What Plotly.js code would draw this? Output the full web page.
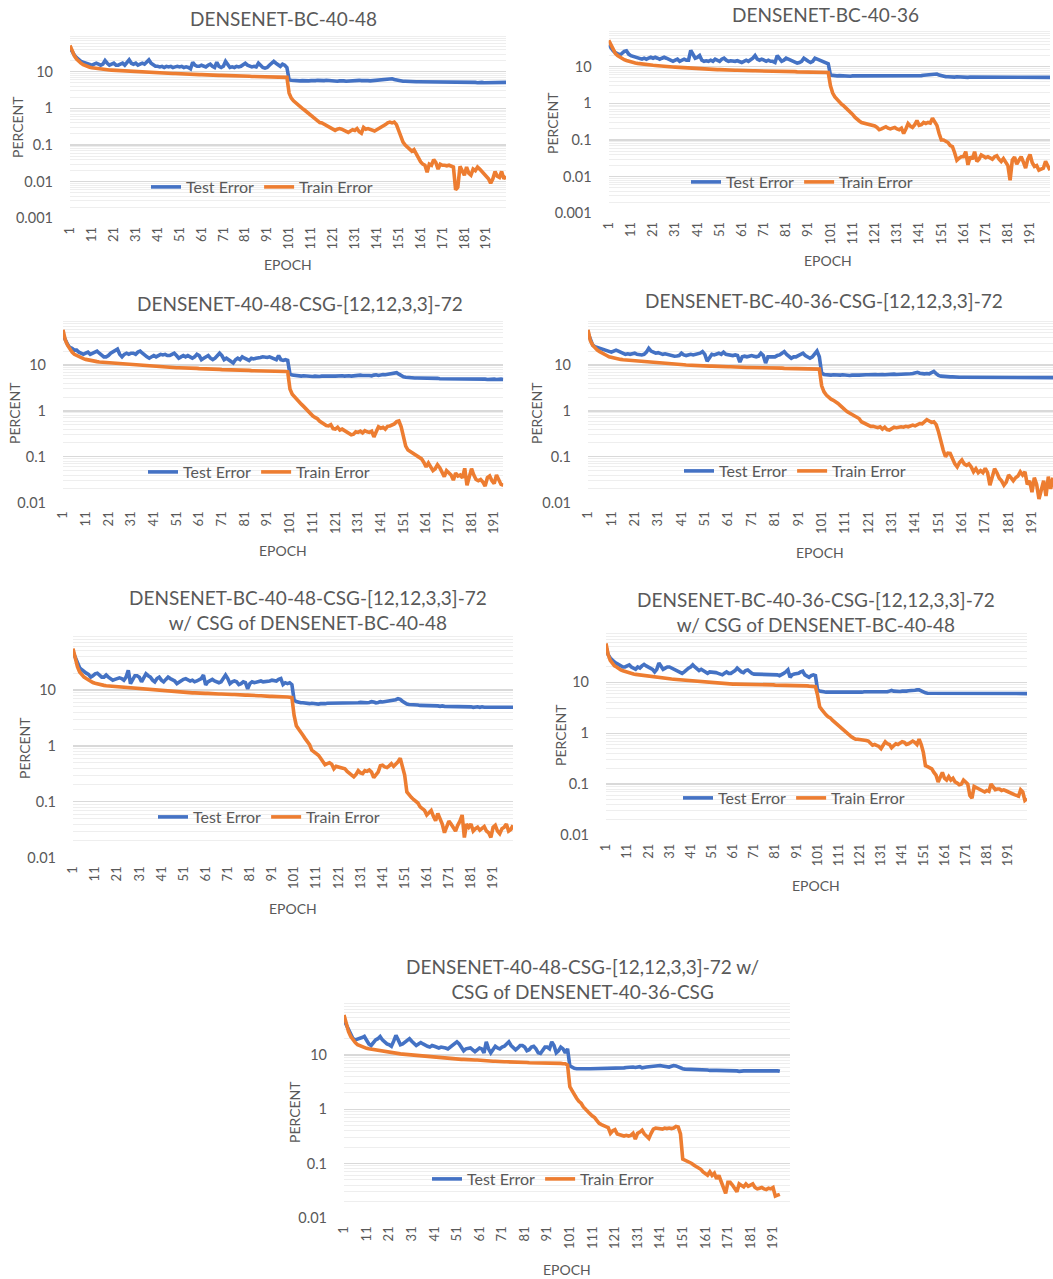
<!DOCTYPE html>
<html><head><meta charset="utf-8">
<script src="https://cdn.plot.ly/plotly-3.0.1.min.js"></script>
<style>html,body{margin:0;padding:0;background:#fff}#chart{width:1053px;height:1279px}</style>
</head><body><div id="chart"></div>
<script>
// ---------- DATA ----------
const xTickVals = [1,11,21,31,41,51,61,71,81,91,101,111,121,131,141,151,161,171,181,191];
const yTickVals = [0.001,0.01,0.1,1,10];
const yTickText = ['0.001','0.01','0.1','1','10'];
const seriesNames = ['Test Error','Train Error'];
const chartTitles = [
  'DENSENET-BC-40-48',
  'DENSENET-BC-40-36',
  'DENSENET-40-48-CSG-[12,12,3,3]-72',
  'DENSENET-BC-40-36-CSG-[12,12,3,3]-72',
  'DENSENET-BC-40-48-CSG-[12,12,3,3]-72<br>w/ CSG of DENSENET-BC-40-48',
  'DENSENET-BC-40-36-CSG-[12,12,3,3]-72<br>w/ CSG of DENSENET-BC-40-48',
  'DENSENET-40-48-CSG-[12,12,3,3]-72 w/<br>CSG of DENSENET-40-36-CSG'
];

const c1Test = [
45,35,28,24,21,19,18,17,16,16,
15,16,17,16,15,16,20,17,15,16,
17,15,15,16,17,15,18,21,17,16,
17,15,16,17,16,18,21,17,15,14,
14,13.5,14,13,14,13.5,14,13,13.5,14,
13.5,14,13,13.5,13,12,18,15,14,14,
15,14,13.5,15,16,14,13,18,14,13,
14,19,15,13,13.5,13,14,13.5,14,16,
17,15,14,13.5,14,13.5,17,15,13,12.5,
13,15,17,19,17,15,14,16,15,13,
6.0,5.8,5.7,5.6,5.7,5.6,5.7,5.6,5.5,5.6,
5.7,5.6,5.7,5.8,5.7,5.6,5.7,5.8,5.7,5.6,
5.7,5.6,5.5,5.6,5.7,5.6,5.5,5.6,5.7,5.8,
5.7,5.9,5.8,5.7,5.8,5.9,5.7,5.6,5.7,5.8,
5.9,6.0,6.1,5.9,6.1,6.3,6.5,6.4,6.1,5.9,
5.7,5.6,5.5,5.5,5.4,5.4,5.3,5.4,5.3,5.3,
5.3,5.2,5.3,5.3,5.2,5.3,5.2,5.2,5.3,5.2,
5.2,5.1,5.2,5.2,5.1,5.2,5.1,5.1,5.2,5.1,
5.1,5.2,5.1,5.1,5.2,5.1,5.0,5.1,5.1,5.0,
5.0,5.1,5.1,5.0,5.1,5.1,5.0,5.1,5.1,5.1];
const c1Train = [
52,36,27,22,19,17,15.5,14.5,13.8,13.2,
12.8,12.5,12.2,12,11.8,11.6,11.4,11.3,11.1,11,
10.9,10.8,10.7,10.6,10.5,10.4,10.3,10.2,10.1,10.1,
10,9.9,9.9,9.8,9.7,9.7,9.6,9.5,9.5,9.4,
9.3,9.3,9.2,9.2,9.1,9.0,9.0,8.9,8.9,8.8,
8.8,8.7,8.7,8.6,8.6,8.5,8.5,8.4,8.4,8.3,
8.3,8.2,8.2,8.2,8.1,8.1,8.0,8.0,7.9,7.9,
7.9,7.8,7.8,7.8,7.7,7.7,7.7,7.6,7.6,7.6,
7.5,7.5,7.5,7.4,7.4,7.4,7.3,7.3,7.3,7.3,
7.2,7.2,7.2,7.2,7.1,7.1,7.1,7.1,7.0,7.0,
2.6,1.9,1.6,1.4,1.25,1.1,1.0,0.9,0.8,0.72,
0.65,0.58,0.5,0.43,0.41,0.4,0.37,0.35,0.32,0.3,
0.27,0.25,0.27,0.28,0.27,0.25,0.24,0.22,0.24,0.26,
0.25,0.28,0.23,0.21,0.3,0.27,0.28,0.27,0.25,0.24,
0.26,0.28,0.3,0.33,0.36,0.4,0.42,0.4,0.42,0.36,
0.25,0.17,0.12,0.1,0.09,0.08,0.068,0.075,0.056,0.045,
0.035,0.03,0.028,0.018,0.03,0.028,0.04,0.033,0.022,0.03,
0.028,0.028,0.027,0.028,0.026,0.025,0.006,0.007,0.026,0.02,
0.015,0.025,0.017,0.015,0.022,0.02,0.025,0.022,0.019,0.016,
0.015,0.012,0.009,0.012,0.019,0.014,0.013,0.019,0.012,0.014];

const c2Test = [
40,32,27,24,22,21,23,26,27,22,
20,19,18,17,17,16,17,16,17,18,
17,18,17,16,17,18,17,16,15,14,
15,16,14,15,16,15,15,28,21,17,
18,20,15,14,14.5,14,15,14,16,15,
14,16,17,15,14,14.5,14,14,14.5,14,
13,14,15,14,15,17,20,16,15,16,
15,14,15,14,14,13,20,16,14,15,
17,16,15,14,13,12.5,13,14,17,15,
14,13,14,17,16,15,14,13,13,12,
5.9,5.7,5.6,5.6,5.7,5.6,5.5,5.6,5.6,5.5,
5.6,5.6,5.5,5.5,5.6,5.5,5.6,5.5,5.5,5.6,
5.5,5.6,5.5,5.5,5.6,5.6,5.7,5.6,5.5,5.6,
5.6,5.7,5.6,5.6,5.5,5.6,5.7,5.6,5.5,5.4,
5.5,5.7,5.8,5.9,6.0,6.1,6.2,6.5,6.3,5.9,
5.6,5.4,5.3,5.3,5.2,5.2,5.2,5.3,5.2,5.2,
5.2,5.2,5.1,5.2,5.2,5.1,5.2,5.1,5.1,5.2,
5.1,5.1,5.2,5.1,5.1,5.1,5.2,5.1,5.1,5.0,
5.1,5.1,5.0,5.1,5.1,5.1,5.0,5.1,5.1,5.0,
5.1,5.0,5.1,5.1,5.0,5.1,5.1,5.0,5.1,5.1];
const c2Train = [
52,38,29,23,20,18,16.5,15.5,14.7,14,
13.5,13,12.6,12.3,12,11.8,11.6,11.4,11.2,11,
10.9,10.8,10.6,10.5,10.4,10.2,10.1,10,9.9,9.8,
9.7,9.6,9.5,9.4,9.3,9.2,9.1,9.0,8.9,8.8,
8.7,8.7,8.6,8.6,8.5,8.5,8.4,8.4,8.3,8.3,
8.3,8.2,8.2,8.1,8.1,8.1,8.0,8.0,8.0,7.9,
7.9,7.9,7.8,7.8,7.8,7.7,7.7,7.7,7.6,7.6,
7.6,7.6,7.5,7.5,7.5,7.5,7.4,7.4,7.4,7.4,
7.3,7.3,7.3,7.3,7.3,7.2,7.2,7.2,7.2,7.2,
7.1,7.1,7.1,7.1,7.1,7.0,7.0,7.0,7.0,6.9,
3.0,1.9,1.5,1.25,1.1,0.95,0.85,0.75,0.65,0.58,
0.5,0.42,0.36,0.33,0.3,0.29,0.28,0.26,0.25,0.24,
0.24,0.22,0.19,0.2,0.22,0.23,0.21,0.2,0.21,0.22,
0.2,0.19,0.21,0.15,0.2,0.28,0.24,0.22,0.26,0.34,
0.25,0.26,0.3,0.28,0.3,0.29,0.39,0.31,0.25,0.15,
0.1,0.1,0.09,0.085,0.07,0.066,0.045,0.028,0.032,0.035,
0.035,0.048,0.021,0.035,0.03,0.048,0.026,0.03,0.039,0.036,
0.033,0.035,0.032,0.03,0.035,0.037,0.03,0.026,0.031,0.024,
0.02,0.008,0.028,0.034,0.022,0.028,0.035,0.025,0.017,0.03,
0.04,0.024,0.019,0.02,0.015,0.016,0.017,0.026,0.02,0.015];

const c3Test = [
45,35,28,24,23,21,21,19,18,17,
18,19,17,18,19,20,18,16,15,15,
16,18,19,20,22,17,15,17,18,17,
18,18,17,19,20,18,16,15,14,15,
16,15,16,17,16.5,17,16,16,17,18,
16,14,15,16,15,16,15,14,15,17,
16,13,14,15,16,14,13,14,16,18,
16,13,14,13,12,11,13,14,13,15,
14,13,12.5,14,13.5,14,14,14.5,15,14.5,
14.5,15,14.5,14,13,16,13,12.5,13,12.5,
6.3,6.0,5.9,5.8,5.8,5.7,5.8,5.7,5.7,5.6,
5.6,5.7,5.6,5.6,5.7,5.8,5.7,5.7,5.6,5.7,
5.7,5.8,5.7,5.8,5.7,5.8,5.8,5.7,5.8,5.9,
5.9,6.0,5.9,5.8,5.9,5.9,5.8,6.0,6.1,5.9,
6.1,6.2,6.1,6.2,6.3,6.4,6.6,6.8,6.3,5.8,
5.5,5.4,5.3,5.3,5.3,5.2,5.2,5.2,5.3,5.2,
5.2,5.1,5.2,5.1,5.1,5.1,5.0,5.0,5.1,5.0,
5.0,5.0,5.0,4.9,5.0,5.0,4.9,4.9,5.0,4.9,
4.9,4.9,5.0,4.9,4.9,4.9,4.9,4.8,4.9,4.9,
4.9,4.8,4.9,4.9,4.8];
const c3Train = [
58,35,27,22,19,17,16,15,14.3,13.7,
13.2,12.8,12.5,12.2,12,11.8,11.6,11.5,11.3,11.2,
11,10.9,10.8,10.7,10.6,10.5,10.4,10.4,10.3,10.3,
10.2,10.1,10.0,9.9,9.8,9.7,9.6,9.5,9.4,9.4,
9.3,9.2,9.2,9.1,9.0,9.0,8.9,8.9,8.8,8.8,
8.7,8.7,8.7,8.6,8.6,8.5,8.5,8.4,8.4,8.4,
8.3,8.3,8.2,8.2,8.2,8.1,8.1,8.0,8.0,8.0,
7.9,7.9,7.9,7.8,7.8,7.8,7.7,7.7,7.7,7.6,
7.6,7.6,7.6,7.5,7.5,7.5,7.5,7.4,7.4,7.4,
7.4,7.3,7.3,7.3,7.3,7.3,7.2,7.2,7.2,7.1,
3.0,2.3,2.0,1.8,1.6,1.4,1.25,1.1,0.95,0.85,
0.78,0.72,0.68,0.6,0.56,0.5,0.48,0.47,0.5,0.41,
0.4,0.44,0.38,0.4,0.37,0.36,0.33,0.3,0.31,0.35,
0.34,0.36,0.33,0.37,0.35,0.34,0.36,0.27,0.35,0.45,
0.42,0.44,0.4,0.46,0.47,0.49,0.52,0.58,0.6,0.45,
0.3,0.17,0.14,0.13,0.12,0.11,0.1,0.095,0.09,0.075,
0.06,0.073,0.06,0.05,0.055,0.067,0.058,0.045,0.037,0.05,
0.045,0.04,0.031,0.044,0.038,0.04,0.035,0.056,0.024,0.035,
0.055,0.04,0.032,0.03,0.032,0.028,0.023,0.035,0.038,0.03,
0.026,0.04,0.03,0.025,0.024];

const c4Test = [
50,34,27,25,24,23,22,21,20,19.5,
19,20,21,20,19,18,17,17.5,17,17.5,
18,17,16.5,16.5,17,19,23,20,19,18,
18.5,17.5,17,17.5,17,16,16,15.5,15.7,16,
18,16.5,16,16.5,17,16.5,17,17.5,18,19.5,
17,12,15,17,16.5,17,18,17,19,17,
16.5,16,16,16.5,16,11.5,15,15.5,15,15.5,
16,15.5,15,15.5,18,16,11,15,15,15.5,
15,16,16.5,18,19.5,17,15,14,15,15,
16,17,18,16,15,14,15,17,20,15,
6.6,6.2,6.1,6.0,6.0,6.1,6.0,5.9,6.0,6.1,
6.0,6.0,5.9,6.0,6.1,6.0,6.0,6.1,6.0,6.1,
6.1,6.2,6.1,6.2,6.1,6.2,6.2,6.1,6.2,6.2,
6.2,6.3,6.2,6.2,6.3,6.2,6.3,6.2,6.4,6.5,
6.6,6.9,6.6,6.4,6.4,6.5,6.4,6.8,7.2,6.5,
5.9,5.7,5.6,5.5,5.5,5.5,5.5,5.4,5.5,5.4,
5.4,5.4,5.3,5.4,5.4,5.3,5.4,5.3,5.3,5.4,
5.3,5.3,5.3,5.4,5.3,5.3,5.3,5.2,5.3,5.3,
5.3,5.2,5.3,5.3,5.2,5.3,5.3,5.2,5.3,5.2,
5.3,5.3,5.2,5.3,5.2,5.2,5.3,5.2,5.3,5.3];
const c4Train = [
58,34,27,23,21,19.5,18,17,16,15,
14.5,14,13.7,13.4,13.2,13,12.9,12.8,12.6,12.5,
12.3,12.2,12.0,11.9,11.8,11.7,11.6,11.5,11.4,11.3,
11.2,11.1,11.0,10.9,10.8,10.7,10.6,10.5,10.4,10.3,
10.2,10.1,10.0,9.9,9.9,9.8,9.7,9.7,9.6,9.6,
9.5,9.5,9.4,9.4,9.3,9.3,9.3,9.2,9.2,9.2,
9.1,9.1,9.0,9.0,9.0,8.9,8.9,8.9,8.8,8.8,
8.8,8.7,8.7,8.7,8.7,8.6,8.6,8.6,8.6,8.5,
8.5,8.5,8.5,8.5,8.4,8.4,8.4,8.4,8.4,8.3,
8.3,8.3,8.3,8.3,8.2,8.2,8.2,8.2,8.2,8.1,
3.5,2.6,2.2,1.95,1.8,1.7,1.6,1.45,1.3,1.14,
1.05,0.95,0.89,0.8,0.75,0.72,0.68,0.58,0.55,0.5,
0.48,0.46,0.46,0.44,0.43,0.45,0.4,0.44,0.39,0.38,
0.42,0.44,0.43,0.44,0.45,0.44,0.46,0.45,0.48,0.49,
0.47,0.5,0.53,0.52,0.58,0.64,0.6,0.56,0.58,0.5,
0.35,0.21,0.14,0.1,0.12,0.118,0.09,0.07,0.06,0.075,
0.085,0.07,0.065,0.07,0.06,0.047,0.055,0.045,0.05,0.045,
0.056,0.045,0.024,0.035,0.055,0.045,0.034,0.03,0.024,0.028,
0.04,0.035,0.03,0.035,0.038,0.047,0.04,0.047,0.025,0.03,
0.017,0.035,0.025,0.012,0.02,0.03,0.014,0.037,0.02,0.035];

const c5Test = [
48,38,30,25,23,21,20,19,17,18,
19.5,20,18,17,17,18.5,17,16,15,15.5,
16,16.5,16,15,17,22.5,13,16,18,18,
17,14,16,19.5,18,17,15,14,16,17,
15,14,15.5,17,16,15.5,14.5,13,14,15,
15.5,16,15,14.5,15,14,14.5,15,16,18.5,
12.3,14,15,15.5,14.5,14,13.5,14,16,18.5,
16,13,14,14.5,14,12.5,13,14,13.5,10.5,
13,14,13.5,14,14.5,14.5,14,14,14.5,14.5,
15,15,14.5,15.5,16,12.5,13.5,13,13.5,12.5,
6.6,6.2,6.0,5.9,5.9,5.8,5.8,5.7,5.8,5.7,
5.7,5.6,5.7,5.6,5.7,5.8,5.8,5.7,5.8,5.8,
5.8,5.7,5.8,5.8,5.9,5.8,5.9,5.8,5.8,5.9,
6.0,5.9,6.0,5.9,6.0,6.2,6.1,5.9,6.0,6.2,
6.1,6.2,6.3,6.2,6.4,6.5,6.7,7.0,6.8,6.3,
5.8,5.6,5.5,5.5,5.4,5.4,5.4,5.3,5.3,5.3,
5.3,5.2,5.3,5.2,5.2,5.2,5.1,5.2,5.1,5.1,
5.1,5.1,5.0,5.1,5.0,5.0,5.1,5.0,5.0,5.0,
5.0,4.9,5.0,5.0,4.9,5.0,4.9,4.9,5.0,4.9,
4.9,4.9,5.0,4.9,4.9,4.9,4.9,4.9,4.9,4.9];
const c5Train = [
55,36,26,21,18.5,17,16,15,14.2,13.6,
13.2,12.8,12.5,12.3,12.1,11.9,11.8,11.7,11.6,11.5,
11.4,11.3,11.2,11.1,11.0,10.9,10.9,10.8,10.8,10.7,
10.7,10.6,10.5,10.5,10.4,10.3,10.2,10.1,10.1,10.0,
9.9,9.9,9.8,9.7,9.6,9.5,9.4,9.3,9.2,9.1,
9.1,9.0,9.0,8.9,8.9,8.9,8.8,8.8,8.8,8.7,
8.7,8.7,8.6,8.6,8.6,8.5,8.5,8.5,8.4,8.4,
8.4,8.3,8.3,8.3,8.2,8.2,8.2,8.1,8.1,8.1,
8.0,8.0,8.0,7.9,7.9,7.9,7.8,7.8,7.8,7.7,
7.7,7.7,7.6,7.6,7.6,7.5,7.5,7.5,7.4,7.3,
3.5,2.3,2.0,1.8,1.55,1.35,1.2,1.05,0.84,0.78,
0.72,0.68,0.6,0.54,0.46,0.48,0.5,0.47,0.39,0.43,
0.42,0.4,0.39,0.39,0.35,0.32,0.3,0.28,0.31,0.36,
0.33,0.32,0.36,0.35,0.37,0.34,0.27,0.3,0.34,0.44,
0.45,0.42,0.41,0.44,0.48,0.43,0.47,0.52,0.6,0.45,
0.3,0.15,0.13,0.12,0.11,0.1,0.095,0.081,0.075,0.07,
0.058,0.065,0.07,0.055,0.046,0.062,0.05,0.04,0.028,0.035,
0.045,0.04,0.035,0.03,0.038,0.045,0.058,0.023,0.04,0.035,
0.04,0.03,0.033,0.035,0.031,0.033,0.036,0.03,0.028,0.023,
0.035,0.038,0.03,0.027,0.033,0.035,0.04,0.03,0.032,0.038];

const c6Test = [
50,35,30,27,25,23.5,22,21,20,20,
21,22,20,19,18,20,19,21,22.5,21,
20,19,18,16,18,24,20,18,19,20,
20,19,18,17.5,17,16,15,16,18,19,
20,22,20,18,17,18,17,16,15,16,
16,16,15.5,15,14.5,14,15,16,15,15,
16,17,19,17,16,15.5,17,17.5,16,15,
14.5,14.5,14,14,14.5,14,14,14.5,14,14,
14,14,13.5,14,15,16,17.5,12.5,14,14.5,
14.5,15,16,16.5,14,13.5,12.5,13.5,14,13.5,
7.1,6.7,6.5,6.5,6.4,6.4,6.3,6.4,6.3,6.3,
6.3,6.4,6.3,6.3,6.2,6.3,6.3,6.3,6.4,6.3,
6.4,6.4,6.5,6.5,6.4,6.5,6.5,6.6,6.5,6.5,
6.6,6.5,6.6,6.5,6.7,6.9,6.7,6.6,6.7,6.6,
6.7,6.6,6.7,6.8,6.8,6.9,7.0,7.1,7.1,6.8,
6.4,6.2,6.1,6.1,6.1,6.0,6.0,6.0,6.0,6.0,
6.0,6.0,5.9,6.0,6.0,5.9,6.0,6.0,6.1,6.0,
6.0,5.9,6.0,6.0,6.0,6.1,6.0,6.0,6.0,6.1,
6.1,6.0,6.0,6.1,6.0,6.0,6.0,5.9,6.0,6.0,
6.0,6.0,6.1,6.0,6.0,6.0,6.0,6.0,6.0,6.0];
const c6Train = [
58,35,27,23,21,20,18.5,17.5,16.8,16.2,
15.7,15.3,14.9,14.6,14.3,14.1,13.9,13.7,13.5,13.3,
13.1,12.9,12.7,12.5,12.3,12.2,12.1,12.0,11.9,11.8,
11.7,11.6,11.5,11.4,11.3,11.2,11.1,11.0,10.9,10.8,
10.7,10.6,10.5,10.4,10.3,10.2,10.1,10.0,9.9,9.8,
9.7,9.6,9.5,9.5,9.4,9.4,9.4,9.3,9.3,9.3,
9.2,9.2,9.2,9.2,9.1,9.1,9.1,9.1,9.0,9.0,
9.0,9.0,9.0,8.9,8.9,8.9,8.9,8.9,8.9,8.9,
8.8,8.8,8.8,8.8,8.7,8.7,8.7,8.7,8.7,8.6,
8.6,8.6,8.6,8.6,8.5,8.5,8.4,8.4,8.3,8.2,
5.6,3.3,2.9,2.5,2.3,2.1,2.0,1.8,1.65,1.5,
1.4,1.3,1.2,1.1,1.0,0.89,0.85,0.8,0.76,0.76,
0.75,0.76,0.74,0.72,0.7,0.65,0.58,0.6,0.58,0.55,
0.5,0.58,0.68,0.62,0.6,0.52,0.58,0.62,0.6,0.65,
0.68,0.66,0.6,0.62,0.65,0.7,0.66,0.6,0.76,0.6,
0.42,0.23,0.22,0.21,0.2,0.17,0.15,0.11,0.14,0.17,
0.13,0.12,0.14,0.12,0.13,0.11,0.105,0.097,0.1,0.12,
0.11,0.1,0.06,0.053,0.09,0.085,0.08,0.075,0.072,0.07,
0.075,0.072,0.1,0.085,0.078,0.08,0.08,0.075,0.077,0.074,
0.07,0.068,0.065,0.062,0.06,0.058,0.077,0.07,0.048,0.052];

const c7Test = [
44,36,29,23,20,19,19.5,20,21,22,
19,16,15,17,19,20,22,19,17,16,
15.5,14.5,18,23,19,15.5,16,17,18.5,20,
18,16,15,16,17,16,15,14.5,14,15,
14.5,14,13.5,14,14,13.5,13,14,15,16,
17.5,16,14,12,13,13.5,13.5,12.5,11.5,12.5,
13.5,13,11,17.5,13,11,13,14.5,13.5,13,
14,14.5,16,17.5,15,14,12.5,13.5,15,15,
14,12,12.5,14,14.5,13,11,10.7,12,14,
14,13,17.5,15,11,12,14,13,11,13,
6.3,5.9,5.7,5.6,5.7,5.6,5.6,5.7,5.6,5.6,
5.6,5.7,5.6,5.6,5.6,5.7,5.7,5.6,5.7,5.8,
5.7,5.6,5.7,5.8,5.8,5.9,6.0,5.9,6.0,5.9,
6.0,6.1,5.8,6.0,6.0,6.1,6.2,6.3,6.4,6.5,
6.4,6.3,6.2,6.1,6.0,6.2,6.4,6.3,6.0,5.7,
5.6,5.5,5.5,5.4,5.4,5.4,5.3,5.3,5.4,5.3,
5.3,5.3,5.2,5.3,5.2,5.2,5.2,5.1,5.2,5.1,
5.1,5.1,5.1,5.1,5.1,5.0,5.1,5.1,5.1,5.1,
5.1,5.1,5.1,5.1,5.1,5.2,5.1,5.1,5.2,5.1,
5.1,5.1,5.1,5.0];
const c7Train = [
55,36,27,22,19,17,15.5,14.8,14.2,13.7,
13.3,13,12.8,12.6,12.3,12,11.7,11.5,11.3,11.1,
11,10.9,10.8,10.7,10.6,10.5,10.4,10.3,10.2,10.1,
10,9.9,9.9,9.8,9.7,9.6,9.6,9.5,9.4,9.3,
9.2,9.2,9.1,9.0,8.9,8.8,8.7,8.6,8.5,8.4,
8.4,8.3,8.3,8.3,8.2,8.2,8.2,8.1,8.1,8.1,
8.0,8.0,7.9,7.9,7.8,7.8,7.7,7.7,7.6,7.6,
7.6,7.5,7.5,7.5,7.4,7.4,7.4,7.4,7.3,7.3,
7.3,7.3,7.2,7.2,7.2,7.2,7.1,7.1,7.1,7.1,
7.1,7.0,7.0,7.0,7.0,7.0,7.0,6.9,6.9,6.5,
2.6,2.2,1.84,1.6,1.4,1.29,1.1,0.98,0.9,0.82,
0.75,0.7,0.62,0.55,0.52,0.49,0.48,0.46,0.36,0.4,
0.42,0.35,0.34,0.33,0.32,0.33,0.32,0.33,0.36,0.28,
0.36,0.38,0.41,0.35,0.32,0.29,0.36,0.43,0.45,0.44,
0.43,0.43,0.45,0.44,0.45,0.44,0.45,0.48,0.47,0.35,
0.12,0.115,0.11,0.107,0.1,0.093,0.088,0.081,0.078,0.07,
0.065,0.061,0.07,0.06,0.066,0.052,0.06,0.048,0.037,0.028,
0.045,0.045,0.04,0.035,0.03,0.042,0.04,0.037,0.042,0.038,
0.04,0.042,0.036,0.034,0.035,0.036,0.034,0.033,0.035,0.034,
0.036,0.025,0.026,0.027];

// ---------- LAYOUT HELPERS ----------
const W = 1053, H = 1279;
const PX = x => x / W, PY = y => 1 - y / H;
const FONT = 'Lato, "Open Sans", "DejaVu Sans", sans-serif';
const GREY = '#595959';
const BLUE = '#4472C4', ORANGE = '#ED7D31';

const panels = [
  {test:c1Test, train:c1Train, x0:70,  x1:506,  y0:35,    y1:218.3, yr:[-3,2], xmax:200, tx:283, ty:18,  pcx:17,  pcy:127,  ex:288, ey:265,  lx:262, ly:187},
  {test:c2Test, train:c2Train, x0:608.7,x1:1050,y0:30,    y1:213.3, yr:[-3,2], xmax:200, tx:825, ty:14,  pcx:553, pcy:123,  ex:828, ey:260,  lx:802, ly:182},
  {test:c3Test, train:c3Train, x0:63,  x1:503.3, y0:319,   y1:502.7, yr:[-2,2], xmax:195, tx:300, ty:303, pcx:14,  pcy:413,  ex:283, ey:550,  lx:259, ly:472},
  {test:c4Test, train:c4Train, x0:588, x1:1053, y0:319,   y1:502.7, yr:[-2,2], xmax:200, tx:824, ty:300, pcx:536, pcy:413,  ex:820, ey:552,  lx:795, ly:471},
  {test:c5Test, train:c5Train, x0:73,  x1:513,  y0:634.1, y1:857.7, yr:[-2,2], xmax:200, tx:308, ty:610, pcx:24,  pcy:748,  ex:293, ey:908,  lx:269, ly:817},
  {test:c6Test, train:c6Train, x0:606, x1:1027, y0:631.4, y1:835,   yr:[-2,2], xmax:200, tx:816, ty:612, pcx:560, pcy:735,  ex:816, ey:886,  lx:794, ly:798},
  {test:c7Test, train:c7Train, x0:344, x1:790,  y0:1000.8,y1:1217.7,yr:[-2,2], xmax:198.5,tx:582, ty:979, pcx:294, pcy:1112, ex:567, ey:1269, lx:543, ly:1179}
];

const minorVals = [];
[0.001,0.01,0.1,1,10].forEach(d => { for (let k = 2; k <= 9; k++) minorVals.push(+(d*k).toPrecision(3)); });

const data = [];
const layout = {
  width: W, height: H,
  margin: {l:0, r:0, t:0, b:0},
  paper_bgcolor: '#ffffff', plot_bgcolor: 'rgba(0,0,0,0)',
  hovermode: false,
  font: {family: FONT, color: GREY},
  annotations: []
};

panels.forEach((p, i) => {
  const n = i + 1;
  const xa = 'x' + (n === 1 ? '' : n), ya = 'y' + (n === 1 ? '' : n);
  const lg = 'legend' + (n === 1 ? '' : n);
  const ep = p.test.map((_, k) => k + 1);
  const ept = p.train.map((_, k) => k + 1);
  data.push({x: ep, y: p.test, name: seriesNames[0], type: 'scatter', mode: 'lines',
             line: {color: BLUE, width: 3.6}, xaxis: xa, yaxis: ya, legend: lg});
  data.push({x: ept, y: p.train, name: seriesNames[1], type: 'scatter', mode: 'lines',
             line: {color: ORANGE, width: 3.6}, xaxis: xa, yaxis: ya, legend: lg});

  layout['xaxis' + (n === 1 ? '' : n)] = {
    domain: [PX(p.x0), PX(p.x1)], anchor: ya, range: [1, p.xmax],
    tickmode: 'array', tickvals: xTickVals, ticktext: xTickVals.map(String),
    tickangle: -90, ticks: '', showgrid: false, zeroline: false, showline: false,
    tickfont: {family: FONT, size: 13, color: GREY}, ticklabelstandoff: 5, fixedrange: true
  };
  layout['yaxis' + (n === 1 ? '' : n)] = {
    domain: [PY(p.y1), PY(p.y0)], anchor: xa, type: 'log', range: p.yr,
    tickmode: 'array', tickvals: yTickVals, ticktext: yTickText,
    ticks: '', showgrid: true, gridcolor: '#d9d9d9', gridwidth: 1.3, zeroline: false, showline: false,
    minor: {tickmode: 'array', tickvals: minorVals, showgrid: true, gridcolor: '#eeeeee', gridwidth: 1, ticks: ''},
    tickfont: {family: FONT, size: 14.5, color: GREY}, ticklabelstandoff: 16, fixedrange: true
  };
  layout[lg] = {
    orientation: 'h', x: PX(p.lx), y: PY(p.ly), xanchor: 'center', yanchor: 'middle',
    bgcolor: 'rgba(0,0,0,0)', font: {family: FONT, size: 16, color: GREY},
    itemwidth: 30, traceorder: 'normal', itemclick: false, itemdoubleclick: false
  };
  layout.annotations.push({text: chartTitles[i], xref: 'paper', yref: 'paper', x: PX(p.tx), y: PY(p.ty),
    xanchor: 'center', yanchor: 'middle', showarrow: false, font: {family: FONT, size: 19, color: GREY}});
  layout.annotations.push({text: 'PERCENT', xref: 'paper', yref: 'paper', x: PX(p.pcx), y: PY(p.pcy),
    xanchor: 'center', yanchor: 'middle', textangle: -90, showarrow: false, font: {family: FONT, size: 14, color: GREY}});
  layout.annotations.push({text: 'EPOCH', xref: 'paper', yref: 'paper', x: PX(p.ex), y: PY(p.ey),
    xanchor: 'center', yanchor: 'middle', showarrow: false, font: {family: FONT, size: 14, color: GREY}});
});

Plotly.newPlot('chart', data, layout, {staticPlot: true, displayModeBar: false});
</script>
</body></html>
